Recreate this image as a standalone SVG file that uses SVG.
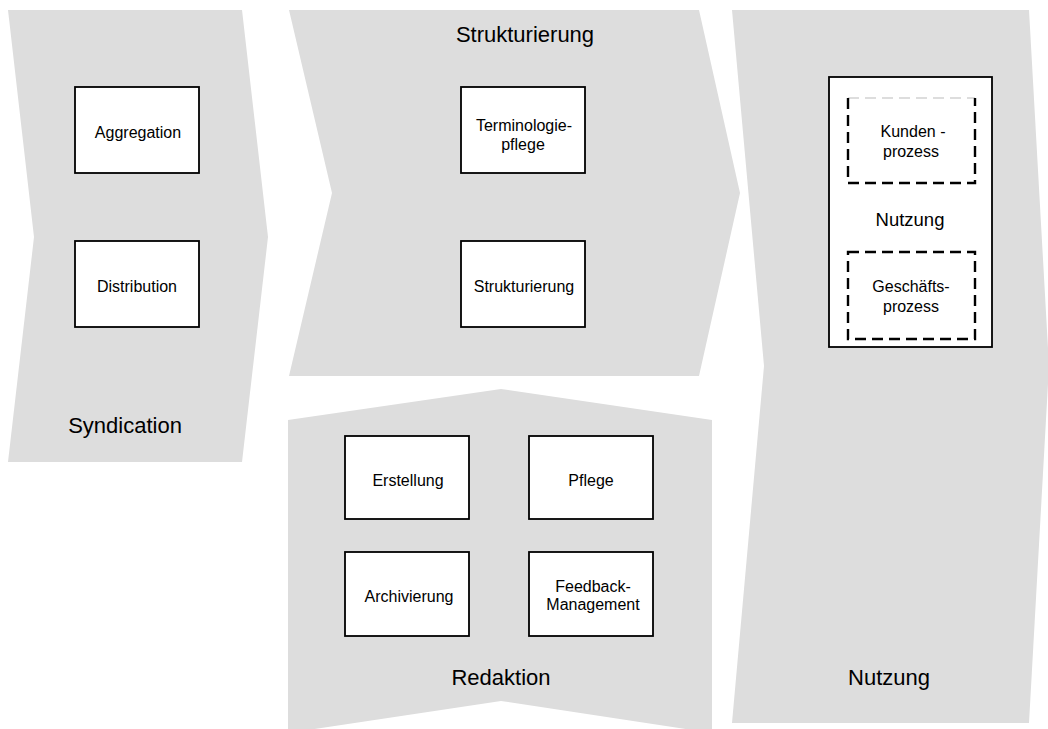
<svg xmlns="http://www.w3.org/2000/svg" width="1048" height="729" viewBox="0 0 1048 729">
<style>
.band{fill:#dddddd;stroke:none}
.box{fill:#ffffff;stroke:#000000;stroke-width:1.8}
.dash{fill:none;stroke:#000000;stroke-width:2.4;stroke-dasharray:11 6}
.dashlight{fill:none;stroke:#bbbbbb;stroke-width:1;stroke-dasharray:11 6}
.t{font-family:"Liberation Sans",Arial,sans-serif;font-size:16px;fill:#000;text-anchor:middle}
.big{font-family:"Liberation Sans",Arial,sans-serif;font-size:22px;fill:#000;text-anchor:middle}
.mid{font-family:"Liberation Sans",Arial,sans-serif;font-size:18.5px;fill:#000;text-anchor:middle}
</style>
<rect width="1048" height="729" fill="#ffffff"/>
<g id="syndication">
<polygon class="band" points="8,10 242,10 268,237 242,462 8,462 34,237"/>
<text class="big" x="125" y="433">Syndication</text>
</g>
<g id="strukturierung-phase">
<polygon class="band" points="289,10 699,10 740,193 699,376 289,376 332,193"/>
<text class="big" x="525" y="42">Strukturierung</text>
</g>
<g id="redaktion">
<polygon class="band" points="288,420 501,389 712,420 712,733 501,701 288,733"/>
<text class="big" x="501" y="685">Redaktion</text>
</g>
<g id="nutzung-phase">
<polygon class="band" points="732,10 1029,10 1049,366 1029,723 732,723 764,366"/>
<text class="big" x="889" y="685">Nutzung</text>
</g>
<g id="aggregation">
<rect class="box" x="75" y="87" width="124" height="86"/>
<text class="t" x="138" y="138">Aggregation</text>
</g>
<g id="distribution">
<rect class="box" x="75" y="241" width="124" height="86"/>
<text class="t" x="137" y="292">Distribution</text>
</g>
<g id="terminologiepflege">
<rect class="box" x="461" y="87" width="124" height="86"/>
<text class="t" x="524" y="131">Terminologie-</text>
<text class="t" x="523" y="150">pflege</text>
</g>
<g id="strukturierung">
<rect class="box" x="461" y="241" width="124" height="86"/>
<text class="t" x="524" y="292">Strukturierung</text>
</g>
<g id="erstellung">
<rect class="box" x="345" y="436" width="124" height="83"/>
<text class="t" x="408" y="486">Erstellung</text>
</g>
<g id="pflege">
<rect class="box" x="529" y="436" width="124" height="83"/>
<text class="t" x="591" y="486">Pflege</text>
</g>
<g id="archivierung">
<rect class="box" x="345" y="552" width="124" height="84"/>
<text class="t" x="409" y="602">Archivierung</text>
</g>
<g id="feedback-management">
<rect class="box" x="529" y="552" width="124" height="84"/>
<text class="t" x="593" y="592">Feedback-</text>
<text class="t" x="593" y="610">Management</text>
</g>
<g id="nutzung">
<rect class="box" x="829" y="77" width="163" height="270"/>
<text class="mid" x="910" y="226">Nutzung</text>
</g>
<g id="kundenprozess">
<line class="dashlight" x1="848" y1="98" x2="975" y2="98"/>
<polyline class="dash" points="848,98 848,183 975,183 975,98"/>
<text class="t" x="913" y="137">Kunden -</text>
<text class="t" x="911" y="157">prozess</text>
</g>
<g id="geschaeftsprozess">
<rect class="dash" x="848" y="252" width="127" height="87"/>
<text class="t" x="911" y="292">Geschäfts-</text>
<text class="t" x="911" y="312">prozess</text>
</g>
<g id="connectors"></g>
</svg>
